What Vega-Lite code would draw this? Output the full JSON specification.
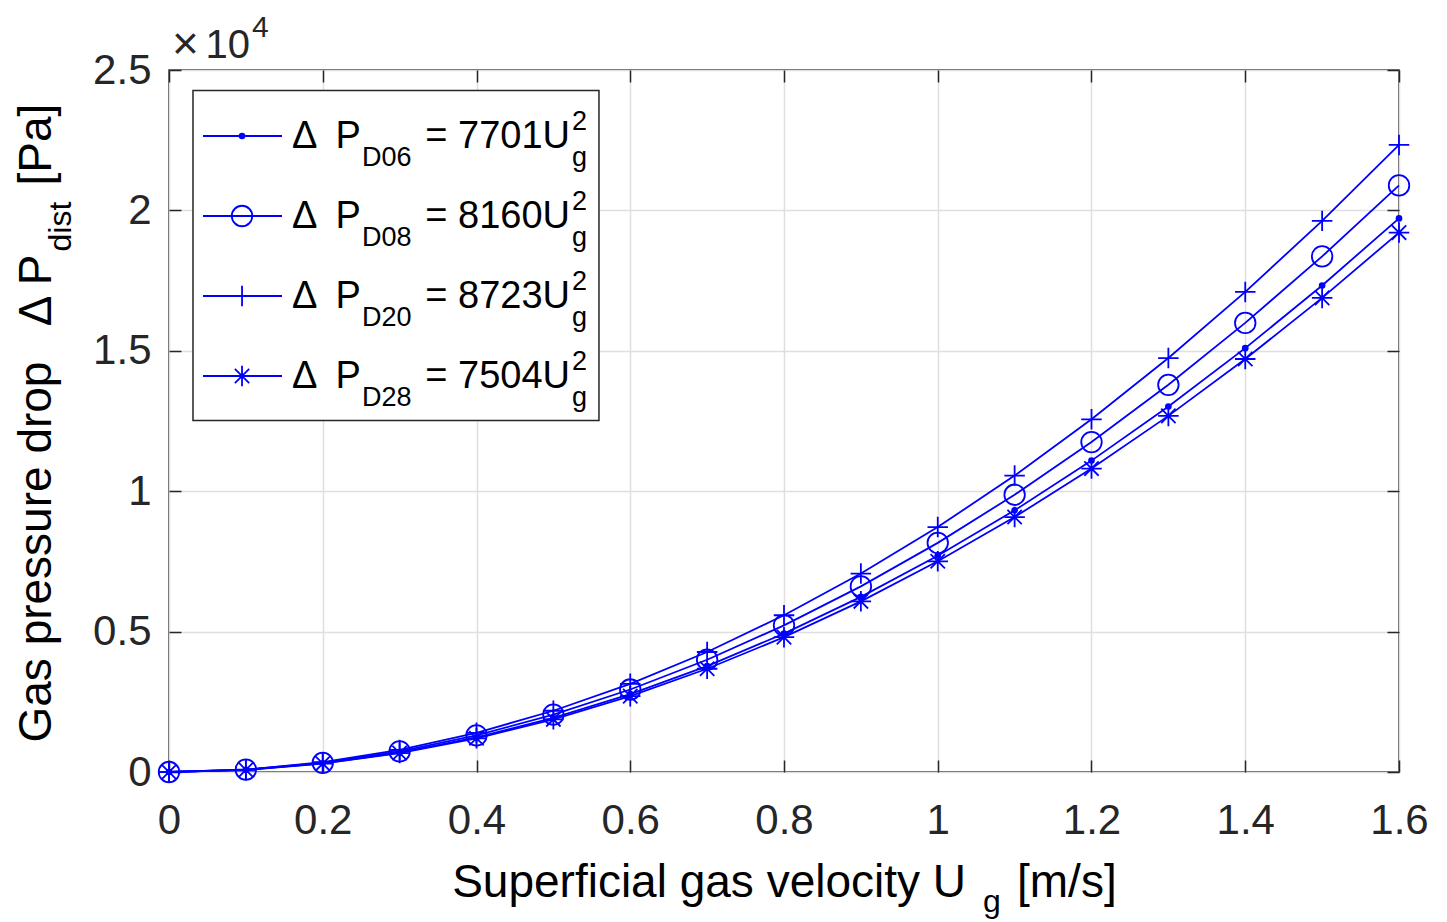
{
  "$schema": "https://vega.github.io/schema/vega-lite/v6.json",
  "width": 1230,
  "height": 702,
  "autosize": {"type": "none"},
  "padding": {"left": 169, "top": 70, "right": 48, "bottom": 150},
  "background": "white",
  "config": {
    "view": {"stroke": "#262626", "strokeWidth": 1.5},
    "font": "Liberation Sans",
    "text": {"font": "Liberation Sans"},
    "axis": {
      "labelFont": "Liberation Sans",
      "labelColor": "#262626",
      "tickColor": "#262626",
      "tickWidth": 1.5,
      "gridColor": "#dfdfdf",
      "gridWidth": 1.5,
      "gridOpacity": 1,
      "domain": false,
      "title": null,
      "labelFlush": false,
      "labelOverlap": false,
      "labelBound": false
    }
  },
  "datasets": {
    "pressure": [
      {"series": "D06", "U": 0, "dp": 0}, {"series": "D06", "U": 0.1, "dp": 77}, {"series": "D06", "U": 0.2, "dp": 308}, {"series": "D06", "U": 0.3, "dp": 693}, {"series": "D06", "U": 0.4, "dp": 1232}, {"series": "D06", "U": 0.5, "dp": 1925}, {"series": "D06", "U": 0.6, "dp": 2772}, {"series": "D06", "U": 0.7, "dp": 3773}, {"series": "D06", "U": 0.8, "dp": 4929}, {"series": "D06", "U": 0.9, "dp": 6238}, {"series": "D06", "U": 1.0, "dp": 7701}, {"series": "D06", "U": 1.1, "dp": 9318}, {"series": "D06", "U": 1.2, "dp": 11089}, {"series": "D06", "U": 1.3, "dp": 13015}, {"series": "D06", "U": 1.4, "dp": 15094}, {"series": "D06", "U": 1.5, "dp": 17327}, {"series": "D06", "U": 1.6, "dp": 19715},
      {"series": "D08", "U": 0, "dp": 0}, {"series": "D08", "U": 0.1, "dp": 82}, {"series": "D08", "U": 0.2, "dp": 326}, {"series": "D08", "U": 0.3, "dp": 734}, {"series": "D08", "U": 0.4, "dp": 1306}, {"series": "D08", "U": 0.5, "dp": 2040}, {"series": "D08", "U": 0.6, "dp": 2938}, {"series": "D08", "U": 0.7, "dp": 3998}, {"series": "D08", "U": 0.8, "dp": 5222}, {"series": "D08", "U": 0.9, "dp": 6610}, {"series": "D08", "U": 1.0, "dp": 8160}, {"series": "D08", "U": 1.1, "dp": 9874}, {"series": "D08", "U": 1.2, "dp": 11750}, {"series": "D08", "U": 1.3, "dp": 13790}, {"series": "D08", "U": 1.4, "dp": 15994}, {"series": "D08", "U": 1.5, "dp": 18360}, {"series": "D08", "U": 1.6, "dp": 20890},
      {"series": "D20", "U": 0, "dp": 0}, {"series": "D20", "U": 0.1, "dp": 87}, {"series": "D20", "U": 0.2, "dp": 349}, {"series": "D20", "U": 0.3, "dp": 785}, {"series": "D20", "U": 0.4, "dp": 1396}, {"series": "D20", "U": 0.5, "dp": 2181}, {"series": "D20", "U": 0.6, "dp": 3140}, {"series": "D20", "U": 0.7, "dp": 4274}, {"series": "D20", "U": 0.8, "dp": 5583}, {"series": "D20", "U": 0.9, "dp": 7066}, {"series": "D20", "U": 1.0, "dp": 8723}, {"series": "D20", "U": 1.1, "dp": 10555}, {"series": "D20", "U": 1.2, "dp": 12561}, {"series": "D20", "U": 1.3, "dp": 14742}, {"series": "D20", "U": 1.4, "dp": 17097}, {"series": "D20", "U": 1.5, "dp": 19627}, {"series": "D20", "U": 1.6, "dp": 22331},
      {"series": "D28", "U": 0, "dp": 0}, {"series": "D28", "U": 0.1, "dp": 75}, {"series": "D28", "U": 0.2, "dp": 300}, {"series": "D28", "U": 0.3, "dp": 675}, {"series": "D28", "U": 0.4, "dp": 1201}, {"series": "D28", "U": 0.5, "dp": 1876}, {"series": "D28", "U": 0.6, "dp": 2701}, {"series": "D28", "U": 0.7, "dp": 3677}, {"series": "D28", "U": 0.8, "dp": 4803}, {"series": "D28", "U": 0.9, "dp": 6078}, {"series": "D28", "U": 1.0, "dp": 7504}, {"series": "D28", "U": 1.1, "dp": 9080}, {"series": "D28", "U": 1.2, "dp": 10806}, {"series": "D28", "U": 1.3, "dp": 12682}, {"series": "D28", "U": 1.4, "dp": 14708}, {"series": "D28", "U": 1.5, "dp": 16884}, {"series": "D28", "U": 1.6, "dp": 19210}
    ],
    "legend": [
      {"series": "D06", "coef": "= 7701U"},
      {"series": "D08", "coef": "= 8160U"},
      {"series": "D20", "coef": "= 8723U"},
      {"series": "D28", "coef": "= 7504U"}
    ]
  },
  "resolve": {"scale": {"y": "independent"}, "axis": {"x": "independent", "y": "independent"}},
  "layer": [
    {
      "data": {"name": "pressure"},
      "resolve": {"axis": {"x": "independent", "y": "independent"}},
      "layer": [
        {
          "mark": {"type": "point", "opacity": 0},
          "encoding": {
            "x": {"field": "U", "type": "quantitative", "scale": {"domain": [0, 1.6], "nice": false, "zero": false},
                  "axis": {"orient": "top", "values": [0, 0.2, 0.4, 0.6, 0.8, 1, 1.2, 1.4, 1.6], "labels": false, "grid": false, "tickSize": -12}},
            "y": {"field": "dp", "type": "quantitative", "scale": {"domain": [0, 25000], "nice": false},
                  "axis": {"orient": "right", "values": [0, 5000, 10000, 15000, 20000, 25000], "labels": false, "grid": false, "tickSize": -12}}
          }
        },
        {
          "mark": {"type": "line", "color": "#0000ff", "strokeWidth": 1.8},
          "encoding": {
            "x": {"field": "U", "type": "quantitative", "scale": {"domain": [0, 1.6], "nice": false, "zero": false},
                  "axis": {"orient": "bottom", "values": [0, 0.2, 0.4, 0.6, 0.8, 1, 1.2, 1.4, 1.6], "format": ".1~f", "labelFontSize": 42, "labelPadding": 40, "tickSize": -12, "grid": true}},
            "y": {"field": "dp", "type": "quantitative", "scale": {"domain": [0, 25000], "nice": false},
                  "axis": {"orient": "left", "values": [0, 5000, 10000, 15000, 20000, 25000], "labelExpr": "datum.value / 10000", "labelFontSize": 42, "labelPadding": 30, "tickSize": -12, "grid": true}},
            "detail": {"field": "series", "type": "nominal"}
          }
        },
        {
          "transform": [{"filter": "datum.series === 'D06'"}],
          "mark": {"type": "point", "shape": "circle", "filled": true, "size": 44, "color": "#0000ff", "opacity": 1},
          "encoding": {
            "x": {"field": "U", "type": "quantitative", "axis": null},
            "y": {"field": "dp", "type": "quantitative", "axis": null}
          }
        },
        {
          "transform": [{"filter": "datum.series !== 'D06'"}],
          "mark": {"type": "point", "filled": false, "size": 420, "color": "#0000ff", "strokeWidth": 1.8, "opacity": 1},
          "encoding": {
            "x": {"field": "U", "type": "quantitative", "axis": null},
            "y": {"field": "dp", "type": "quantitative", "axis": null},
            "shape": {"field": "series", "type": "nominal",
                      "scale": {"domain": ["D06", "D08", "D20", "D28"], "range": ["circle", "circle", "M-1,0H1M0,-1V1", "M-1,0H1M0,-1V1M-0.7,-0.7L0.7,0.7M-0.7,0.7L0.7,-0.7"]},
                      "legend": null}
          }
        },
        {
          "data": {"values": [{}]},
          "mark": {"type": "rect", "fill": "white", "stroke": "#262626", "strokeWidth": 1.5},
          "encoding": {
            "x": {"datum": 0.0312, "type": "quantitative", "axis": null},
            "x2": {"datum": 0.5593},
            "y": {"datum": 24270, "type": "quantitative", "axis": null},
            "y2": {"datum": 12518}
          }
        },
        {
          "data": {"values": [{}]},
          "mark": {"type": "text", "text": "×", "align": "left", "baseline": "alphabetic", "fontSize": 46, "fontWeight": 300, "color": "#262626"},
          "encoding": {
            "x": {"datum": 0.0039, "type": "quantitative", "axis": null},
            "y": {"datum": 25374, "type": "quantitative", "axis": null}
          }
        },
        {
          "data": {"values": [{}]},
          "mark": {"type": "text", "text": "10", "align": "right", "baseline": "alphabetic", "fontSize": 40, "color": "#262626"},
          "encoding": {
            "x": {"datum": 0.1054, "type": "quantitative", "axis": null},
            "y": {"datum": 25445, "type": "quantitative", "axis": null}
          }
        },
        {
          "data": {"values": [{}]},
          "mark": {"type": "text", "text": "4", "align": "left", "baseline": "alphabetic", "fontSize": 30, "color": "#262626"},
          "encoding": {
            "x": {"datum": 0.108, "type": "quantitative", "axis": null},
            "y": {"datum": 26193, "type": "quantitative", "axis": null}
          }
        },
        {
          "data": {"values": [{}]},
          "mark": {"type": "text", "text": "Superficial gas velocity U", "align": "right", "baseline": "alphabetic", "fontSize": 46, "color": "black"},
          "encoding": {
            "x": {"datum": 1.0368, "type": "quantitative", "axis": null},
            "y": {"datum": -4434, "type": "quantitative", "axis": null}
          }
        },
        {
          "data": {"values": [{}]},
          "mark": {"type": "text", "text": "g", "align": "left", "baseline": "alphabetic", "fontSize": 32, "color": "black"},
          "encoding": {
            "x": {"datum": 1.0589, "type": "quantitative", "axis": null},
            "y": {"datum": -5003, "type": "quantitative", "axis": null}
          }
        },
        {
          "data": {"values": [{}]},
          "mark": {"type": "text", "text": "[m/s]", "align": "left", "baseline": "alphabetic", "fontSize": 46, "color": "black"},
          "encoding": {
            "x": {"datum": 1.1031, "type": "quantitative", "axis": null},
            "y": {"datum": -4434, "type": "quantitative", "axis": null}
          }
        },
        {
          "data": {"values": [{}]},
          "mark": {"type": "text", "text": "Gas pressure drop", "angle": 270, "align": "left", "baseline": "alphabetic", "fontSize": 46, "color": "black"},
          "encoding": {
            "x": {"datum": -0.1535, "type": "quantitative", "axis": null},
            "y": {"datum": 1050, "type": "quantitative", "axis": null}
          }
        },
        {
          "data": {"values": [{}]},
          "mark": {"type": "text", "text": "Δ P", "angle": 270, "align": "right", "baseline": "alphabetic", "fontSize": 46, "color": "black"},
          "encoding": {
            "x": {"datum": -0.1535, "type": "quantitative", "axis": null},
            "y": {"datum": 18430, "type": "quantitative", "axis": null}
          }
        },
        {
          "data": {"values": [{}]},
          "mark": {"type": "text", "text": "dist", "angle": 270, "align": "left", "baseline": "alphabetic", "fontSize": 32, "color": "black"},
          "encoding": {
            "x": {"datum": -0.1275, "type": "quantitative", "axis": null},
            "y": {"datum": 18536, "type": "quantitative", "axis": null}
          }
        },
        {
          "data": {"values": [{}]},
          "mark": {"type": "text", "text": "[Pa]", "angle": 270, "align": "left", "baseline": "alphabetic", "fontSize": 46, "color": "black"},
          "encoding": {
            "x": {"datum": -0.1535, "type": "quantitative", "axis": null},
            "y": {"datum": 20887, "type": "quantitative", "axis": null}
          }
        }
      ]
    },
    {
      "data": {"name": "legend"},
      "layer": [
        {
          "mark": {"type": "rule", "color": "#0000ff", "strokeWidth": 1.8},
          "encoding": {
            "x": {"datum": 0.0442, "type": "quantitative", "axis": null},
            "x2": {"datum": 0.147},
            "y": {"field": "series", "type": "nominal", "axis": null,
                  "scale": {"type": "point", "domain": ["D06", "D08", "D20", "D28"], "range": [66, 306], "padding": 0}}
          }
        },
        {
          "transform": [{"filter": "datum.series === 'D06'"}],
          "mark": {"type": "point", "shape": "circle", "filled": true, "size": 44, "color": "#0000ff", "opacity": 1},
          "encoding": {
            "x": {"datum": 0.095, "type": "quantitative", "axis": null},
            "y": {"field": "series", "type": "nominal", "axis": null}
          }
        },
        {
          "transform": [{"filter": "datum.series !== 'D06'"}],
          "mark": {"type": "point", "filled": false, "size": 420, "color": "#0000ff", "strokeWidth": 1.8, "opacity": 1},
          "encoding": {
            "x": {"datum": 0.095, "type": "quantitative", "axis": null},
            "y": {"field": "series", "type": "nominal", "axis": null},
            "shape": {"field": "series", "type": "nominal", "legend": null}
          }
        },
        {
          "mark": {"type": "text", "text": "Δ\u00a0\u2009P", "align": "left", "baseline": "alphabetic", "dy": 12, "fontSize": 38, "color": "black"},
          "encoding": {
            "x": {"datum": 0.16, "type": "quantitative", "axis": null},
            "y": {"field": "series", "type": "nominal", "axis": null}
          }
        },
        {
          "mark": {"type": "text", "align": "left", "baseline": "alphabetic", "dy": 30, "fontSize": 27, "color": "black"},
          "encoding": {
            "x": {"datum": 0.2511, "type": "quantitative", "axis": null},
            "y": {"field": "series", "type": "nominal", "axis": null},
            "text": {"field": "series", "type": "nominal"}
          }
        },
        {
          "mark": {"type": "text", "align": "right", "baseline": "alphabetic", "dy": 12, "fontSize": 38, "color": "black"},
          "encoding": {
            "x": {"datum": 0.5216, "type": "quantitative", "axis": null},
            "y": {"field": "series", "type": "nominal", "axis": null},
            "text": {"field": "coef", "type": "nominal"}
          }
        },
        {
          "mark": {"type": "text", "text": "2", "align": "left", "baseline": "alphabetic", "dy": -6, "fontSize": 27, "color": "black"},
          "encoding": {
            "x": {"datum": 0.5242, "type": "quantitative", "axis": null},
            "y": {"field": "series", "type": "nominal", "axis": null}
          }
        },
        {
          "mark": {"type": "text", "text": "g", "align": "left", "baseline": "alphabetic", "dy": 30, "fontSize": 27, "color": "black"},
          "encoding": {
            "x": {"datum": 0.5242, "type": "quantitative", "axis": null},
            "y": {"field": "series", "type": "nominal", "axis": null}
          }
        }
      ]
    }
  ]
}
